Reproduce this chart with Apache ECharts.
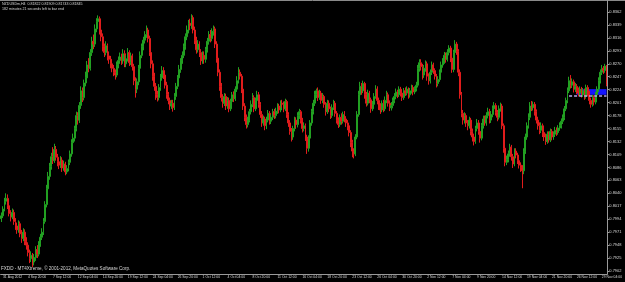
<!DOCTYPE html>
<html>
<head>
<meta charset="utf-8">
<script src="https://cdn.jsdelivr.net/npm/echarts@6/dist/echarts.min.js"></script>
<style>
  html, body { margin: 0; padding: 0; background: #000; }
  #chart { width: 625px; height: 282px; }
</style>
</head>
<body>
<div id="chart"></div>
<script>
// NZDUSD H4, prices in pips (1/10000)
const timeLabels = ['31 Aug 2012', '4 Sep 20:00', '7 Sep 12:00', '12 Sep 04:00', '14 Sep 20:00',
  '19 Sep 12:00', '24 Sep 04:00', '26 Sep 20:00', '1 Oct 12:00', '4 Oct 04:00', '8 Oct 20:00',
  '11 Oct 12:00', '16 Oct 04:00', '18 Oct 20:00', '23 Oct 12:00', '26 Oct 04:00', '30 Oct 20:00',
  '2 Nov 12:00', '7 Nov 04:00', '9 Nov 20:00', '14 Nov 12:00', '19 Nov 04:00', '21 Nov 20:00',
  '26 Nov 12:00', '29 Nov 04:00'];

const priceTicks = [7902, 7925, 7948, 7971, 7994, 8017, 8040, 8063, 8086, 8109, 8132, 8155,
  8178, 8201, 8224, 8247, 8270, 8293, 8316, 8339, 8362];

const opens = [
  7995, 8000, 8012, 8026, 8031, 8018, 8004, 7998, 8006, 7990,
  7982, 7975, 7986, 7968, 7960, 7971, 7955, 7948, 7935, 7924,
  7930, 7918, 7926, 7940, 7932, 7950, 7962, 7971, 7990, 8020,
  8048, 8070, 8088, 8105, 8098, 8118, 8104, 8096, 8090, 8099,
  8085, 8092, 8078, 8084, 8095, 8110, 8130, 8138, 8155, 8178,
  8170, 8196, 8222, 8210, 8236, 8245, 8268, 8262, 8290, 8310,
  8305, 8332, 8345, 8350, 8330, 8318, 8300, 8290, 8302, 8284,
  8278, 8270, 8262, 8255, 8250, 8268, 8276, 8282, 8275, 8288,
  8270, 8279, 8290, 8272, 8284, 8265, 8240, 8225, 8238, 8262,
  8285, 8300, 8312, 8322, 8330, 8315, 8290, 8270, 8248, 8230,
  8215, 8210, 8228, 8245, 8258, 8250, 8232, 8215, 8205, 8195,
  8200, 8192, 8212, 8230, 8245, 8260, 8275, 8285, 8300, 8318,
  8330, 8342, 8338, 8352, 8330, 8312, 8295, 8305, 8290, 8275,
  8285, 8278, 8295, 8310, 8322, 8315, 8328, 8332, 8305, 8280,
  8255, 8230, 8210, 8200, 8212, 8195, 8205, 8190, 8203, 8215,
  8208, 8225, 8240, 8255, 8248, 8225, 8195, 8175, 8162, 8170,
  8185, 8198, 8210, 8190, 8205, 8215, 8198, 8180, 8165, 8172,
  8160, 8170, 8182, 8168, 8175, 8185, 8178, 8186, 8195, 8188,
  8200, 8198, 8190, 8203, 8180, 8165, 8150, 8140, 8155, 8170,
  8162, 8178, 8185, 8170, 8155, 8160, 8140, 8120, 8138, 8165,
  8185, 8200, 8215, 8222, 8210, 8218, 8205, 8212, 8198, 8185,
  8200, 8190, 8178, 8192, 8200, 8182, 8170, 8162, 8175, 8168,
  8180, 8172, 8165, 8160, 8148, 8130, 8115, 8110, 8140, 8180,
  8215, 8230, 8222, 8235, 8215, 8200, 8218, 8206, 8190, 8198,
  8212, 8225, 8205, 8195, 8188, 8200, 8190, 8205, 8215, 8200,
  8192, 8196, 8205, 8212, 8220, 8215, 8225, 8218, 8210, 8222,
  8218, 8225, 8215, 8222, 8228, 8220, 8226, 8232, 8262, 8272,
  8265, 8250, 8262, 8270, 8248, 8240, 8255, 8268, 8258, 8248,
  8235, 8242, 8255, 8268, 8275, 8285, 8278, 8290, 8298, 8280,
  8260, 8290, 8305, 8292, 8255, 8215, 8182, 8170, 8178, 8165,
  8160, 8170, 8150, 8140, 8132, 8155, 8165, 8150, 8138, 8160,
  8172, 8165, 8178, 8185, 8170, 8180, 8190, 8196, 8184, 8175,
  8190, 8195, 8160, 8120, 8095, 8100, 8110, 8122, 8105, 8092,
  8115, 8108, 8098, 8090, 8085, 8080, 8115, 8140, 8160, 8175,
  8195, 8192, 8198, 8185, 8170, 8160, 8152, 8160, 8148, 8140,
  8132, 8145, 8135, 8150, 8140, 8145, 8152, 8148, 8156, 8160,
  8168, 8175, 8190, 8205, 8222, 8240, 8232, 8238, 8225, 8230,
  8222, 8218, 8225, 8215, 8222, 8212, 8228, 8218, 8205, 8198,
  8210, 8202, 8215, 8225, 8240, 8255, 8262, 8258, 8266
];

const closes = [
  8000, 8012, 8026, 8031, 8018, 8004, 7998, 8006, 7990, 7982,
  7975, 7986, 7968, 7960, 7971, 7955, 7948, 7935, 7924, 7930,
  7918, 7926, 7940, 7932, 7950, 7962, 7971, 7990, 8020, 8048,
  8070, 8088, 8105, 8098, 8118, 8104, 8096, 8090, 8099, 8085,
  8092, 8078, 8084, 8095, 8110, 8130, 8138, 8155, 8178, 8170,
  8196, 8222, 8210, 8236, 8245, 8268, 8262, 8290, 8310, 8305,
  8332, 8345, 8350, 8330, 8318, 8300, 8290, 8302, 8284, 8278,
  8270, 8262, 8255, 8250, 8268, 8276, 8282, 8275, 8288, 8270,
  8279, 8290, 8272, 8284, 8265, 8240, 8225, 8238, 8262, 8285,
  8300, 8312, 8322, 8330, 8315, 8290, 8270, 8248, 8230, 8215,
  8210, 8228, 8245, 8258, 8250, 8232, 8215, 8205, 8195, 8200,
  8192, 8212, 8230, 8245, 8260, 8275, 8285, 8300, 8318, 8330,
  8342, 8338, 8352, 8330, 8312, 8295, 8305, 8290, 8275, 8285,
  8278, 8295, 8310, 8322, 8315, 8328, 8332, 8305, 8280, 8255,
  8230, 8210, 8200, 8212, 8195, 8205, 8190, 8203, 8215, 8208,
  8225, 8240, 8255, 8248, 8225, 8195, 8175, 8162, 8170, 8185,
  8198, 8210, 8190, 8205, 8215, 8198, 8180, 8165, 8172, 8160,
  8170, 8182, 8168, 8175, 8185, 8178, 8186, 8195, 8188, 8200,
  8198, 8190, 8203, 8180, 8165, 8150, 8140, 8155, 8170, 8162,
  8178, 8185, 8170, 8155, 8160, 8140, 8120, 8138, 8165, 8185,
  8200, 8215, 8222, 8210, 8218, 8205, 8212, 8198, 8185, 8200,
  8190, 8178, 8192, 8200, 8182, 8170, 8162, 8175, 8168, 8180,
  8172, 8165, 8160, 8148, 8130, 8115, 8110, 8140, 8180, 8215,
  8230, 8222, 8235, 8215, 8200, 8218, 8206, 8190, 8198, 8212,
  8225, 8205, 8195, 8188, 8200, 8190, 8205, 8215, 8200, 8192,
  8196, 8205, 8212, 8220, 8215, 8225, 8218, 8210, 8222, 8218,
  8225, 8215, 8222, 8228, 8220, 8226, 8232, 8262, 8272, 8265,
  8250, 8262, 8270, 8248, 8240, 8255, 8268, 8258, 8248, 8235,
  8242, 8255, 8268, 8275, 8285, 8278, 8290, 8298, 8280, 8260,
  8290, 8305, 8292, 8255, 8215, 8182, 8170, 8178, 8165, 8160,
  8170, 8150, 8140, 8132, 8155, 8165, 8150, 8138, 8160, 8172,
  8165, 8178, 8185, 8170, 8180, 8190, 8196, 8184, 8175, 8190,
  8195, 8160, 8120, 8095, 8100, 8110, 8122, 8105, 8092, 8115,
  8108, 8098, 8090, 8085, 8080, 8115, 8140, 8160, 8175, 8195,
  8192, 8198, 8185, 8170, 8160, 8152, 8160, 8148, 8140, 8132,
  8145, 8135, 8150, 8140, 8145, 8152, 8148, 8156, 8160, 8168,
  8175, 8190, 8205, 8222, 8240, 8232, 8238, 8225, 8230, 8222,
  8218, 8225, 8215, 8222, 8212, 8228, 8218, 8205, 8198, 8210,
  8202, 8215, 8225, 8240, 8255, 8262, 8258, 8266, 8234
];

const lows = [
  7989, 7996, 8008, 8020, 8012, 7999, 7990, 7994, 7984, 7975,
  7968, 7970, 7962, 7952, 7955, 7948, 7940, 7928, 7916, 7918,
  7909, 7912, 7920, 7925, 7928, 7945, 7957, 7966, 7986, 8015,
  8042, 8064, 8082, 8092, 8094, 8098, 8088, 8083, 8085, 8078,
  8080, 8072, 8074, 8079, 8090, 8105, 8124, 8132, 8150, 8162,
  8165, 8190, 8202, 8205, 8230, 8240, 8255, 8258, 8284, 8296,
  8300, 8326, 8338, 8322, 8310, 8292, 8282, 8285, 8276, 8270,
  8262, 8255, 8248, 8242, 8246, 8262, 8270, 8268, 8270, 8264,
  8264, 8274, 8266, 8268, 8258, 8232, 8210, 8218, 8232, 8256,
  8280, 8294, 8306, 8316, 8308, 8284, 8262, 8240, 8222, 8206,
  8203, 8205, 8222, 8240, 8243, 8226, 8208, 8198, 8188, 8190,
  8185, 8188, 8206, 8225, 8240, 8254, 8270, 8280, 8295, 8312,
  8324, 8330, 8332, 8324, 8305, 8288, 8290, 8282, 8268, 8270,
  8270, 8272, 8290, 8304, 8308, 8310, 8320, 8298, 8272, 8248,
  8222, 8203, 8192, 8195, 8188, 8190, 8184, 8186, 8198, 8202,
  8204, 8220, 8235, 8242, 8218, 8188, 8168, 8155, 8157, 8166,
  8180, 8193, 8184, 8186, 8200, 8192, 8174, 8158, 8160, 8152,
  8154, 8166, 8162, 8163, 8170, 8172, 8173, 8181, 8182, 8184,
  8192, 8184, 8186, 8174, 8158, 8144, 8132, 8135, 8150, 8155,
  8157, 8172, 8164, 8148, 8150, 8133, 8110, 8114, 8133, 8160,
  8180, 8195, 8209, 8204, 8206, 8199, 8200, 8192, 8178, 8181,
  8184, 8172, 8174, 8188, 8176, 8164, 8156, 8158, 8162, 8164,
  8166, 8158, 8152, 8141, 8122, 8104, 8102, 8106, 8136, 8176,
  8210, 8215, 8218, 8208, 8194, 8196, 8200, 8183, 8186, 8194,
  8208, 8198, 8188, 8181, 8184, 8184, 8186, 8200, 8194, 8186,
  8187, 8191, 8200, 8207, 8209, 8211, 8212, 8204, 8206, 8213,
  8214, 8208, 8210, 8217, 8214, 8216, 8221, 8228, 8256, 8258,
  8242, 8245, 8256, 8240, 8233, 8235, 8250, 8252, 8242, 8228,
  8230, 8238, 8250, 8263, 8270, 8272, 8274, 8285, 8273, 8254,
  8255, 8285, 8286, 8248, 8208, 8175, 8162, 8164, 8158, 8152,
  8155, 8143, 8132, 8125, 8128, 8150, 8144, 8130, 8134, 8155,
  8160, 8160, 8173, 8164, 8165, 8175, 8185, 8178, 8168, 8171,
  8185, 8154, 8112, 8088, 8090, 8095, 8105, 8098, 8085, 8088,
  8102, 8092, 8084, 8078, 8049, 8074, 8110, 8135, 8155, 8170,
  8186, 8187, 8178, 8164, 8153, 8145, 8147, 8140, 8133, 8126,
  8128, 8130, 8131, 8134, 8135, 8140, 8142, 8144, 8151, 8155,
  8163, 8170, 8186, 8200, 8218, 8226, 8227, 8219, 8220, 8216,
  8212, 8213, 8210, 8211, 8206, 8208, 8212, 8198, 8192, 8194,
  8196, 8198, 8210, 8220, 8235, 8250, 8252, 8254, 8230
];

const highs = [
  8006, 8017, 8032, 8040, 8038, 8024, 8010, 8013, 8011, 7996,
  7988, 7992, 7990, 7975, 7978, 7976, 7962, 7953, 7940, 7937,
  7934, 7932, 7946, 7948, 7955, 7968, 7978, 7996, 8026, 8055,
  8078, 8094, 8112, 8122, 8128, 8124, 8110, 8102, 8106, 8104,
  8098, 8096, 8090, 8100, 8116, 8136, 8146, 8160, 8185, 8184,
  8202, 8230, 8228, 8242, 8256, 8275, 8280, 8296, 8318, 8322,
  8340, 8351, 8356, 8354, 8336, 8324, 8306, 8310, 8306, 8292,
  8284, 8276, 8268, 8260, 8274, 8283, 8290, 8288, 8296, 8294,
  8285, 8298, 8294, 8290, 8288, 8270, 8246, 8244, 8268, 8292,
  8306, 8318, 8328, 8338, 8334, 8320, 8295, 8276, 8254, 8236,
  8222, 8234, 8252, 8266, 8264, 8256, 8238, 8220, 8210, 8206,
  8206, 8218, 8236, 8250, 8268, 8280, 8292, 8306, 8324, 8338,
  8348, 8350, 8358, 8356, 8336, 8318, 8312, 8310, 8296, 8292,
  8292, 8300, 8316, 8328, 8330, 8333, 8338, 8336, 8310, 8286,
  8260, 8236, 8216, 8218, 8217, 8211, 8210, 8208, 8220, 8221,
  8230, 8248, 8264, 8260, 8252, 8230, 8200, 8180, 8176, 8190,
  8205, 8218, 8214, 8210, 8222, 8220, 8202, 8186, 8178, 8176,
  8176, 8188, 8186, 8180, 8190, 8190, 8192, 8200, 8199, 8205,
  8206, 8203, 8208, 8206, 8184, 8170, 8156, 8160, 8176, 8175,
  8184, 8190, 8188, 8174, 8166, 8164, 8144, 8143, 8170, 8190,
  8206, 8222, 8226, 8228, 8224, 8222, 8218, 8215, 8202, 8206,
  8205, 8194, 8198, 8206, 8204, 8186, 8175, 8180, 8182, 8185,
  8186, 8177, 8170, 8164, 8152, 8135, 8120, 8145, 8186, 8222,
  8238, 8236, 8240, 8238, 8220, 8224, 8222, 8210, 8204, 8218,
  8232, 8230, 8210, 8200, 8205, 8206, 8212, 8222, 8219, 8205,
  8202, 8210, 8218, 8226, 8224, 8230, 8229, 8222, 8227, 8228,
  8230, 8228, 8227, 8233, 8232, 8230, 8238, 8268, 8278, 8278,
  8270, 8268, 8276, 8274, 8253, 8260, 8274, 8272, 8262, 8252,
  8248, 8260, 8274, 8280, 8291, 8290, 8296, 8303, 8302, 8284,
  8295, 8312, 8309, 8296, 8260, 8220, 8188, 8184, 8182, 8170,
  8176, 8174, 8155, 8146, 8160, 8172, 8170, 8154, 8165, 8178,
  8178, 8184, 8192, 8190, 8186, 8196, 8202, 8200, 8188, 8196,
  8201, 8199, 8164, 8126, 8107, 8116, 8128, 8126, 8110, 8120,
  8120, 8112, 8103, 8095, 8090, 8120, 8146, 8166, 8182, 8202,
  8204, 8203, 8202, 8189, 8176, 8166, 8166, 8164, 8153, 8146,
  8150, 8150, 8155, 8154, 8150, 8158, 8157, 8161, 8166, 8173,
  8180, 8195, 8210, 8228, 8247, 8250, 8244, 8242, 8236, 8234,
  8228, 8230, 8229, 8227, 8226, 8233, 8232, 8222, 8210, 8215,
  8214, 8220, 8230, 8246, 8260, 8268, 8266, 8270, 8268
];

// drawn objects on the chart
const boxRange = { fromBar: 369, toBar: 388, top: 8225, bottom: 8215 };
const dashedLevel = { fromBar: 364, value: 8213 };
const bidLevel = 8207;

const textColor = '#d8d8d8';
const upColor = '#22a022';
const downColor = '#e01c1c';
const font = 'Liberation Sans';

const barIndex = closes.map((_, i) => i);
const candles = closes.map((c, i) => [opens[i], c, lows[i], highs[i]]);
const fmt = (v) => (v / 10000).toFixed(4);
const isTimeTick = (i) => i % 16 === 1;

const chart = echarts.init(document.getElementById('chart'));

chart.setOption({
  backgroundColor: '#000',
  animation: false,
  title: {
    text: 'NZDUSDm,H4  0.81822 0.81909 0.81743 0.81845',
    subtext: '182 minutes 21 seconds left to bar end',
    left: 2,
    top: 2,
    padding: 0,
    itemGap: 1,
    textStyle: { fontSize: 3.6, color: textColor, fontWeight: 'normal', fontFamily: font },
    subtextStyle: { fontSize: 3.6, color: textColor, fontFamily: font }
  },
  grid: { left: 0, right: 13, top: 0, bottom: 8 },
  xAxis: {
    type: 'category',
    data: barIndex,
    axisLine: { lineStyle: { color: '#9a9a9a', width: 1 } },
    axisTick: {
      alignWithLabel: true,
      length: 2,
      interval: isTimeTick,
      lineStyle: { color: '#9a9a9a' }
    },
    axisLabel: {
      interval: isTimeTick,
      showMinLabel: true,
      formatter: (v, i) => timeLabels[(i - 1) / 16] || '',
      align: 'left',
      margin: 2,
      fontSize: 3.4,
      color: textColor,
      fontFamily: font
    },
    splitLine: { show: false }
  },
  yAxis: {
    type: 'value',
    position: 'right',
    min: 7896.7,
    max: 8383.3,
    axisLine: { show: true, lineStyle: { color: '#9a9a9a', width: 1 } },
    axisTick: { show: true, length: 2, customValues: priceTicks, lineStyle: { color: '#9a9a9a' } },
    axisLabel: {
      customValues: priceTicks,
      formatter: fmt,
      margin: 2,
      fontSize: 4,
      color: textColor,
      fontFamily: font
    },
    splitLine: { show: false }
  },
  graphic: [
    {
      type: 'line',
      shape: { x1: 0, y1: 0.5, x2: 625, y2: 0.5 },
      style: { stroke: '#8a8a8a', lineWidth: 1 }
    },
    {
      type: 'text',
      left: 1,
      top: 266,
      style: {
        text: 'FXDD - MT4Xtreme, \u00a9 2001-2012, MetaQuotes Software Corp.',
        fill: textColor,
        fontSize: 4.6,
        fontFamily: font
      }
    }
  ],
  series: [{
    type: 'candlestick',
    data: candles,
    barWidth: 1.4,
    itemStyle: {
      color: upColor,
      color0: downColor,
      borderColor: upColor,
      borderColor0: downColor,
      borderWidth: 1
    },
    markArea: {
      silent: true,
      itemStyle: { color: '#1414ff', opacity: 1 },
      data: [[
        { xAxis: boxRange.fromBar, yAxis: boxRange.top },
        { xAxis: boxRange.toBar, yAxis: boxRange.bottom }
      ]]
    },
    markLine: {
      silent: true,
      symbol: 'none',
      data: [
        [
          { xAxis: dashedLevel.fromBar, yAxis: dashedLevel.value },
          { xAxis: closes.length - 1, yAxis: dashedLevel.value }
        ],
        {
          yAxis: bidLevel,
          lineStyle: { opacity: 0 },
          label: {
            show: true,
            position: 'end',
            distance: 1,
            formatter: fmt(bidLevel),
            backgroundColor: '#ffffff',
            color: '#000',
            fontSize: 4,
            padding: [0, 1],
            fontFamily: font
          }
        }
      ],
      lineStyle: { color: '#b8a8ec', type: [3, 2], width: 1.5 },
      label: { show: false }
    }
  }]
});
</script>
</body>
</html>
